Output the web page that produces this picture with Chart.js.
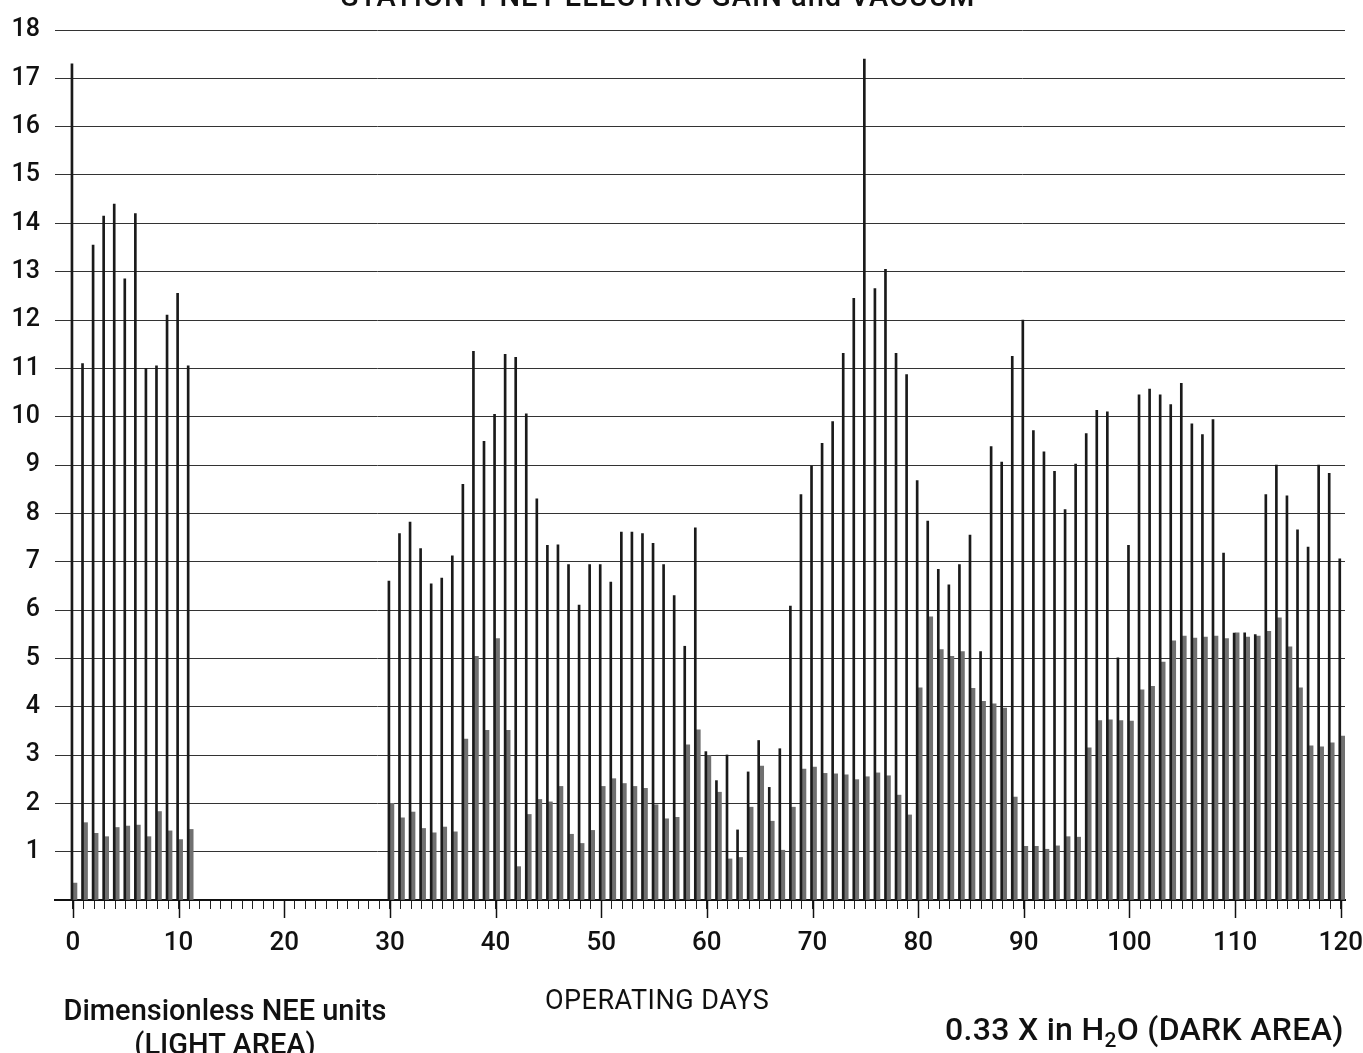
<!DOCTYPE html>
<html>
<head>
<meta charset="utf-8">
<script src="https://cdn.jsdelivr.net/npm/chart.js@4/dist/chart.umd.min.js"></script>
<style>
    body { margin: 0; background: #fff; }
    #wrap { position: relative; width: 1363px; height: 1053px; overflow: hidden; background: #fff; }
    #wrap canvas { position: absolute; left: 0; top: 0; }
    .txt { position: absolute; font-family: Roboto, "Liberation Sans", sans-serif; color: #111; white-space: nowrap; }
    #title { left: 0; width: 1316px; text-align: center; top: -21px; font-size: 29px; font-weight: 500; letter-spacing: 1px; }
    #xTitle { left: 545px; top: 984px; font-size: 27px; letter-spacing: 0.5px; }
    #leftNote { left: 42px; top: 993px; font-size: 29px; font-weight: 500; text-align: center; line-height: 34px; width: 366px; }
    #rightNote { left: 945px; top: 1010px; font-size: 32px; font-weight: 500; letter-spacing: 0.3px; }
    #rightNote sub { font-size: 21px; }
</style>
</head>
<body>
<div id="wrap">
    <canvas id="chart" width="1363" height="1053"></canvas>
    <div class="txt" id="title">STATION 1 NET ELECTRIC GAIN and VACUUM</div>
    <div class="txt" id="xTitle">OPERATING DAYS</div>
    <div class="txt" id="leftNote">Dimensionless NEE units<br>(LIGHT AREA)</div>
    <div class="txt" id="rightNote">0.33 X in H<sub>2</sub>O (DARK AREA)</div>
</div>
<script>
// operating days 0..120 (no plant operation between day 12 and 29)
const days = [
    0, 1, 2, 3, 4, 5, 6, 7, 8, 9, 10, 11, 12, 13, 14, 15, 16, 17, 18, 19,
    20, 21, 22, 23, 24, 25, 26, 27, 28, 29, 30, 31, 32, 33, 34, 35, 36, 37, 38, 39,
    40, 41, 42, 43, 44, 45, 46, 47, 48, 49, 50, 51, 52, 53, 54, 55, 56, 57, 58, 59,
    60, 61, 62, 63, 64, 65, 66, 67, 68, 69, 70, 71, 72, 73, 74, 75, 76, 77, 78, 79,
    80, 81, 82, 83, 84, 85, 86, 87, 88, 89, 90, 91, 92, 93, 94, 95, 96, 97, 98, 99,
    100, 101, 102, 103, 104, 105, 106, 107, 108, 109, 110, 111, 112, 113, 114, 115, 116, 117, 118, 119,
    120
];

// net electric gain, dimensionless NEE units (light area)
const neeValues = [
    17.3, 11.1, 13.55, 14.15, 14.4, 12.85, 14.2, 11.0, 11.05, 12.1, 12.55, 11.05,
    null, null, null, null, null, null, null, null, null, null, null, null, null, null, null, null, null, null,
    6.6, 7.58, 7.82, 7.27, 6.54, 6.66, 7.12, 8.6, 11.35, 9.49,
    10.05, 11.29, 11.23, 10.06, 8.3, 7.34, 7.35, 6.94, 6.1, 6.94,
    6.94, 6.58, 7.61, 7.61, 7.58, 7.38, 6.94, 6.3, 5.25, 7.7,
    3.07, 2.47, 3.0, 1.45, 2.65, 3.3, 2.33, 3.13, 6.08, 8.39,
    8.98, 9.45, 9.9, 11.31, 12.45, 17.4, 12.65, 13.05, 11.31, 10.87,
    8.68, 7.84, 6.84, 6.52, 6.94, 7.55, 5.14, 9.38, 9.06, 11.25,
    12.0, 9.71, 9.27, 8.87, 8.08, 9.02, 9.65, 10.13, 10.1, 5.01,
    7.34, 10.45, 10.57, 10.45, 10.25, 10.69, 9.85, 9.63, 9.94, 7.18,
    5.52, 5.53, 5.49, 8.39, 9.0, 8.36, 7.66, 7.3, 9.0, 8.83,
    7.06
];

// vacuum, 0.33 x inches of water (dark area)
const vacuumValues = [
    0.35, 1.6, 1.38, 1.31, 1.5, 1.53, 1.55, 1.31, 1.83, 1.43, 1.25, 1.46,
    null, null, null, null, null, null, null, null, null, null, null, null, null, null, null, null, null, null,
    2.0, 1.7, 1.82, 1.48, 1.39, 1.51, 1.41, 3.33, 5.04, 3.51,
    5.41, 3.51, 0.69, 1.77, 2.08, 2.03, 2.35, 1.36, 1.17, 1.44,
    2.35, 2.51, 2.41, 2.35, 2.31, 1.97, 1.68, 1.71, 3.21, 3.52,
    2.99, 2.23, 0.85, 0.88, 1.92, 2.77, 1.63, 1.03, 1.92, 2.71,
    2.75, 2.62, 2.61, 2.59, 2.49, 2.55, 2.63, 2.57, 2.17, 1.76,
    4.39, 5.86, 5.18, 5.04, 5.14, 4.38, 4.11, 4.06, 3.97, 2.13,
    1.11, 1.11, 1.05, 1.12, 1.31, 1.3, 3.15, 3.71, 3.73, 3.71,
    3.7, 4.35, 4.42, 4.92, 5.36, 5.46, 5.42, 5.44, 5.46, 5.41,
    5.53, 5.44, 5.46, 5.56, 5.84, 5.24, 4.39, 3.19, 3.17, 3.25,
    3.39
];

const xLabelTicks = [0, 10, 20, 30, 40, 50, 60, 70, 80, 90, 100, 110, 120];
const yTicks = [0, 1, 2, 3, 4, 5, 6, 7, 8, 9, 10, 11, 12, 13, 14, 15, 16, 17, 18];

const fontFamily = 'Roboto, "Liberation Sans", sans-serif';

// longer tick marks under every tenth day
const majorTickPlugin = {
    id: 'majorTicks',
    afterDraw(chart) {
        const xs = chart.scales.x;
        const ctx = chart.ctx;
        ctx.save();
        ctx.strokeStyle = '#111';
        ctx.lineWidth = 1.5;
        xLabelTicks.forEach(v => {
            const px = Math.round(xs.getPixelForValue(v)) + 0.5;
            ctx.beginPath();
            ctx.moveTo(px, xs.top);
            ctx.lineTo(px, xs.top + 18);
            ctx.stroke();
        });
        ctx.restore();
    }
};

const ctx = document.getElementById('chart').getContext('2d');
new Chart(ctx, {
    type: 'bar',
    data: {
        datasets: [
            {
                label: 'Dimensionless NEE units',
                data: days.map((d, i) => ({ x: d, y: neeValues[i] })),
                backgroundColor: '#1a1a1a',
                barThickness: 2
            },
            {
                label: '0.33 X in H2O',
                data: days.map((d, i) => ({ x: d, y: vacuumValues[i] })),
                backgroundColor: '#707070',
                barThickness: 4
            }
        ]
    },
    options: {
        responsive: false,
        animation: false,
        layout: { padding: { top: 27, right: 18, bottom: 0, left: 0 } },
        plugins: {
            legend: { display: false },
            tooltip: { enabled: false }
        },
        scales: {
            x: {
                type: 'linear',
                min: -1.7,
                max: 120.4,
                offset: false,
                afterFit: (scale) => {
                    scale.height = 153;
                    scale.paddingLeft = 0;
                    scale.paddingRight = 0;
                },
                afterBuildTicks: (scale) => { scale.ticks = days.map(v => ({ value: v })); },
                border: { display: true, color: '#111', width: 2 },
                grid: {
                    offset: false,
                    drawOnChartArea: false,
                    drawTicks: true,
                    tickLength: 9,
                    color: '#222',
                    lineWidth: 1
                },
                ticks: {
                    autoSkip: false,
                    maxRotation: 0,
                    padding: 19,
                    color: '#111',
                    font: { family: fontFamily, size: 26, weight: '500' },
                    callback: (value) => (xLabelTicks.includes(value) ? String(value) : '')
                }
            },
            y: {
                min: 0,
                max: 18,
                afterFit: (scale) => { scale.width = 55; },
                afterBuildTicks: (scale) => { scale.ticks = yTicks.map(v => ({ value: v })); },
                border: { display: false },
                grid: {
                    drawTicks: false,
                    color: '#333',
                    lineWidth: 1
                },
                ticks: {
                    padding: 15,
                    color: '#111',
                    font: { family: fontFamily, size: 25, weight: '500' },
                    callback: (value) => (value === 0 ? '' : String(value))
                }
            }
        }
    },
    plugins: [majorTickPlugin]
});
</script>
</body>
</html>
